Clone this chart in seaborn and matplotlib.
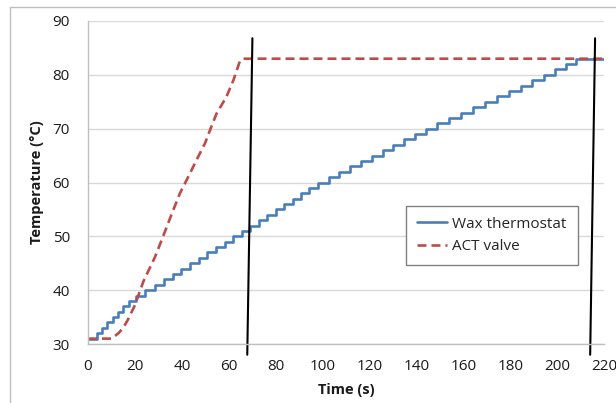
import matplotlib
matplotlib.use("Agg")
import matplotlib.pyplot as plt
from matplotlib.lines import Line2D
import pandas as pd
import seaborn as sns

# wax thermostat: time (s) at which each 1 degC step happens
wax_time = [0, 3.8, 6.05, 8.3, 10.55, 12.8, 15.05, 17.3, 20.3, 24.5, 28.7,
            32.4, 36.1, 39.8, 43.5, 47.2, 50.9, 54.6, 58.3, 62.0, 65.6,
            69.2, 72.8, 76.4, 80.0, 83.6, 87.2, 90.8, 94.4, 98.0, 102.6,
            107.2, 111.8, 116.4, 121.0, 125.6, 130.2, 134.8, 139.4, 144.0,
            148.9, 153.8, 158.9, 164.0, 169.1, 174.2, 179.3, 184.4, 189.5,
            194.6, 199.2, 203.6, 208.0, 220]
wax_temp = [31, 32, 33, 34, 35, 36, 37, 38, 39, 40, 41, 42, 43, 44, 45, 46,
            47, 48, 49, 50, 51, 52, 53, 54, 55, 56, 57, 58, 59, 60, 61, 62,
            63, 64, 65, 66, 67, 68, 69, 70, 71, 72, 73, 74, 75, 76, 77, 78,
            79, 80, 81, 82, 83, 83]

# ACT valve
act_time = [0, 10, 13, 15, 17, 20, 23.6, 28.6, 31.4, 36, 39.2, 42.8, 46.3,
            49.9, 52, 54.8, 59, 62, 64.8, 66.2, 220]
act_temp = [31, 31, 32, 33, 34.5, 37.2, 41.6, 46.2, 49.3, 54.5, 58, 61.1,
            64.2, 67.3, 69.7, 72.8, 75.9, 79, 82.6, 83, 83]

# hand drawn black marker lines
mark1_time = [70.1, 67.9]
mark2_time = [216.2, 214.1]
mark_temp = [86.8, 28.0]

wax = pd.DataFrame({"Time": wax_time, "Temp": wax_temp})
act = pd.DataFrame({"Time": act_time, "Temp": act_temp})

sns.set_style("white")
plt.rcParams["font.family"] = ["Open Sans", "DejaVu Sans"]

fig = plt.figure(figsize=(6.16, 4.03), dpi=100)
ax = fig.add_axes([88 / 616, 1 - 344 / 403, 516 / 616, 323 / 403])

sns.lineplot(data=wax, x="Time", y="Temp", ax=ax, color="#4a7ebb",
             linewidth=1.9, drawstyle="steps-post", label="Wax thermostat")
sns.lineplot(data=act, x="Time", y="Temp", ax=ax, color="#be4b48",
             linewidth=1.9, linestyle=(0, (3.4, 1.9)), label="ACT valve")

ax.plot(mark1_time, mark_temp, color="black", linewidth=1.5, clip_on=False)
ax.plot(mark2_time, mark_temp, color="black", linewidth=1.5, clip_on=False)

ax.set_xlim(0, 220)
ax.set_ylim(30, 90)
ax.set_xticks(range(0, 221, 20))
ax.set_yticks(range(30, 91, 10))
ax.yaxis.grid(True, color="#d9d9d9", linewidth=1)
ax.xaxis.grid(False)
ax.set_axisbelow(True)

for side in ["top", "right"]:
    ax.spines[side].set_visible(False)
for side in ["left", "bottom"]:
    ax.spines[side].set_color("#bfbfbf")
    ax.spines[side].set_linewidth(1)

ax.tick_params(axis="both", which="major", direction="out", length=5,
               width=1, color="#bfbfbf", labelsize=11, labelcolor="#1a1a1a")
ax.tick_params(axis="x", pad=6)
ax.tick_params(axis="y", pad=8)

ax.set_xlabel("Time (s)", fontsize=10.5, fontweight="bold", color="#1a1a1a",
              labelpad=6)
ax.set_ylabel("Temperature (°C)", fontsize=10.5, fontweight="bold",
              color="#1a1a1a", labelpad=6)

leg = ax.legend(loc="upper left", bbox_to_anchor=(0.616, 0.427),
                borderaxespad=0, fontsize=11, frameon=True, fancybox=False,
                framealpha=1, edgecolor="#808080", handlelength=2.0,
                handletextpad=0.35, borderpad=0.7, labelspacing=0.5)
leg.get_frame().set_linewidth(1)

# outer chart border
fig.add_artist(Line2D([10 / 616, 10 / 616], [0, 1 - 7 / 403],
                      transform=fig.transFigure, color="#bfbfbf", lw=1))
fig.add_artist(Line2D([10 / 616, 1], [1 - 7 / 403, 1 - 7 / 403],
                      transform=fig.transFigure, color="#bfbfbf", lw=1))

fig.savefig("out.png", dpi=100)
